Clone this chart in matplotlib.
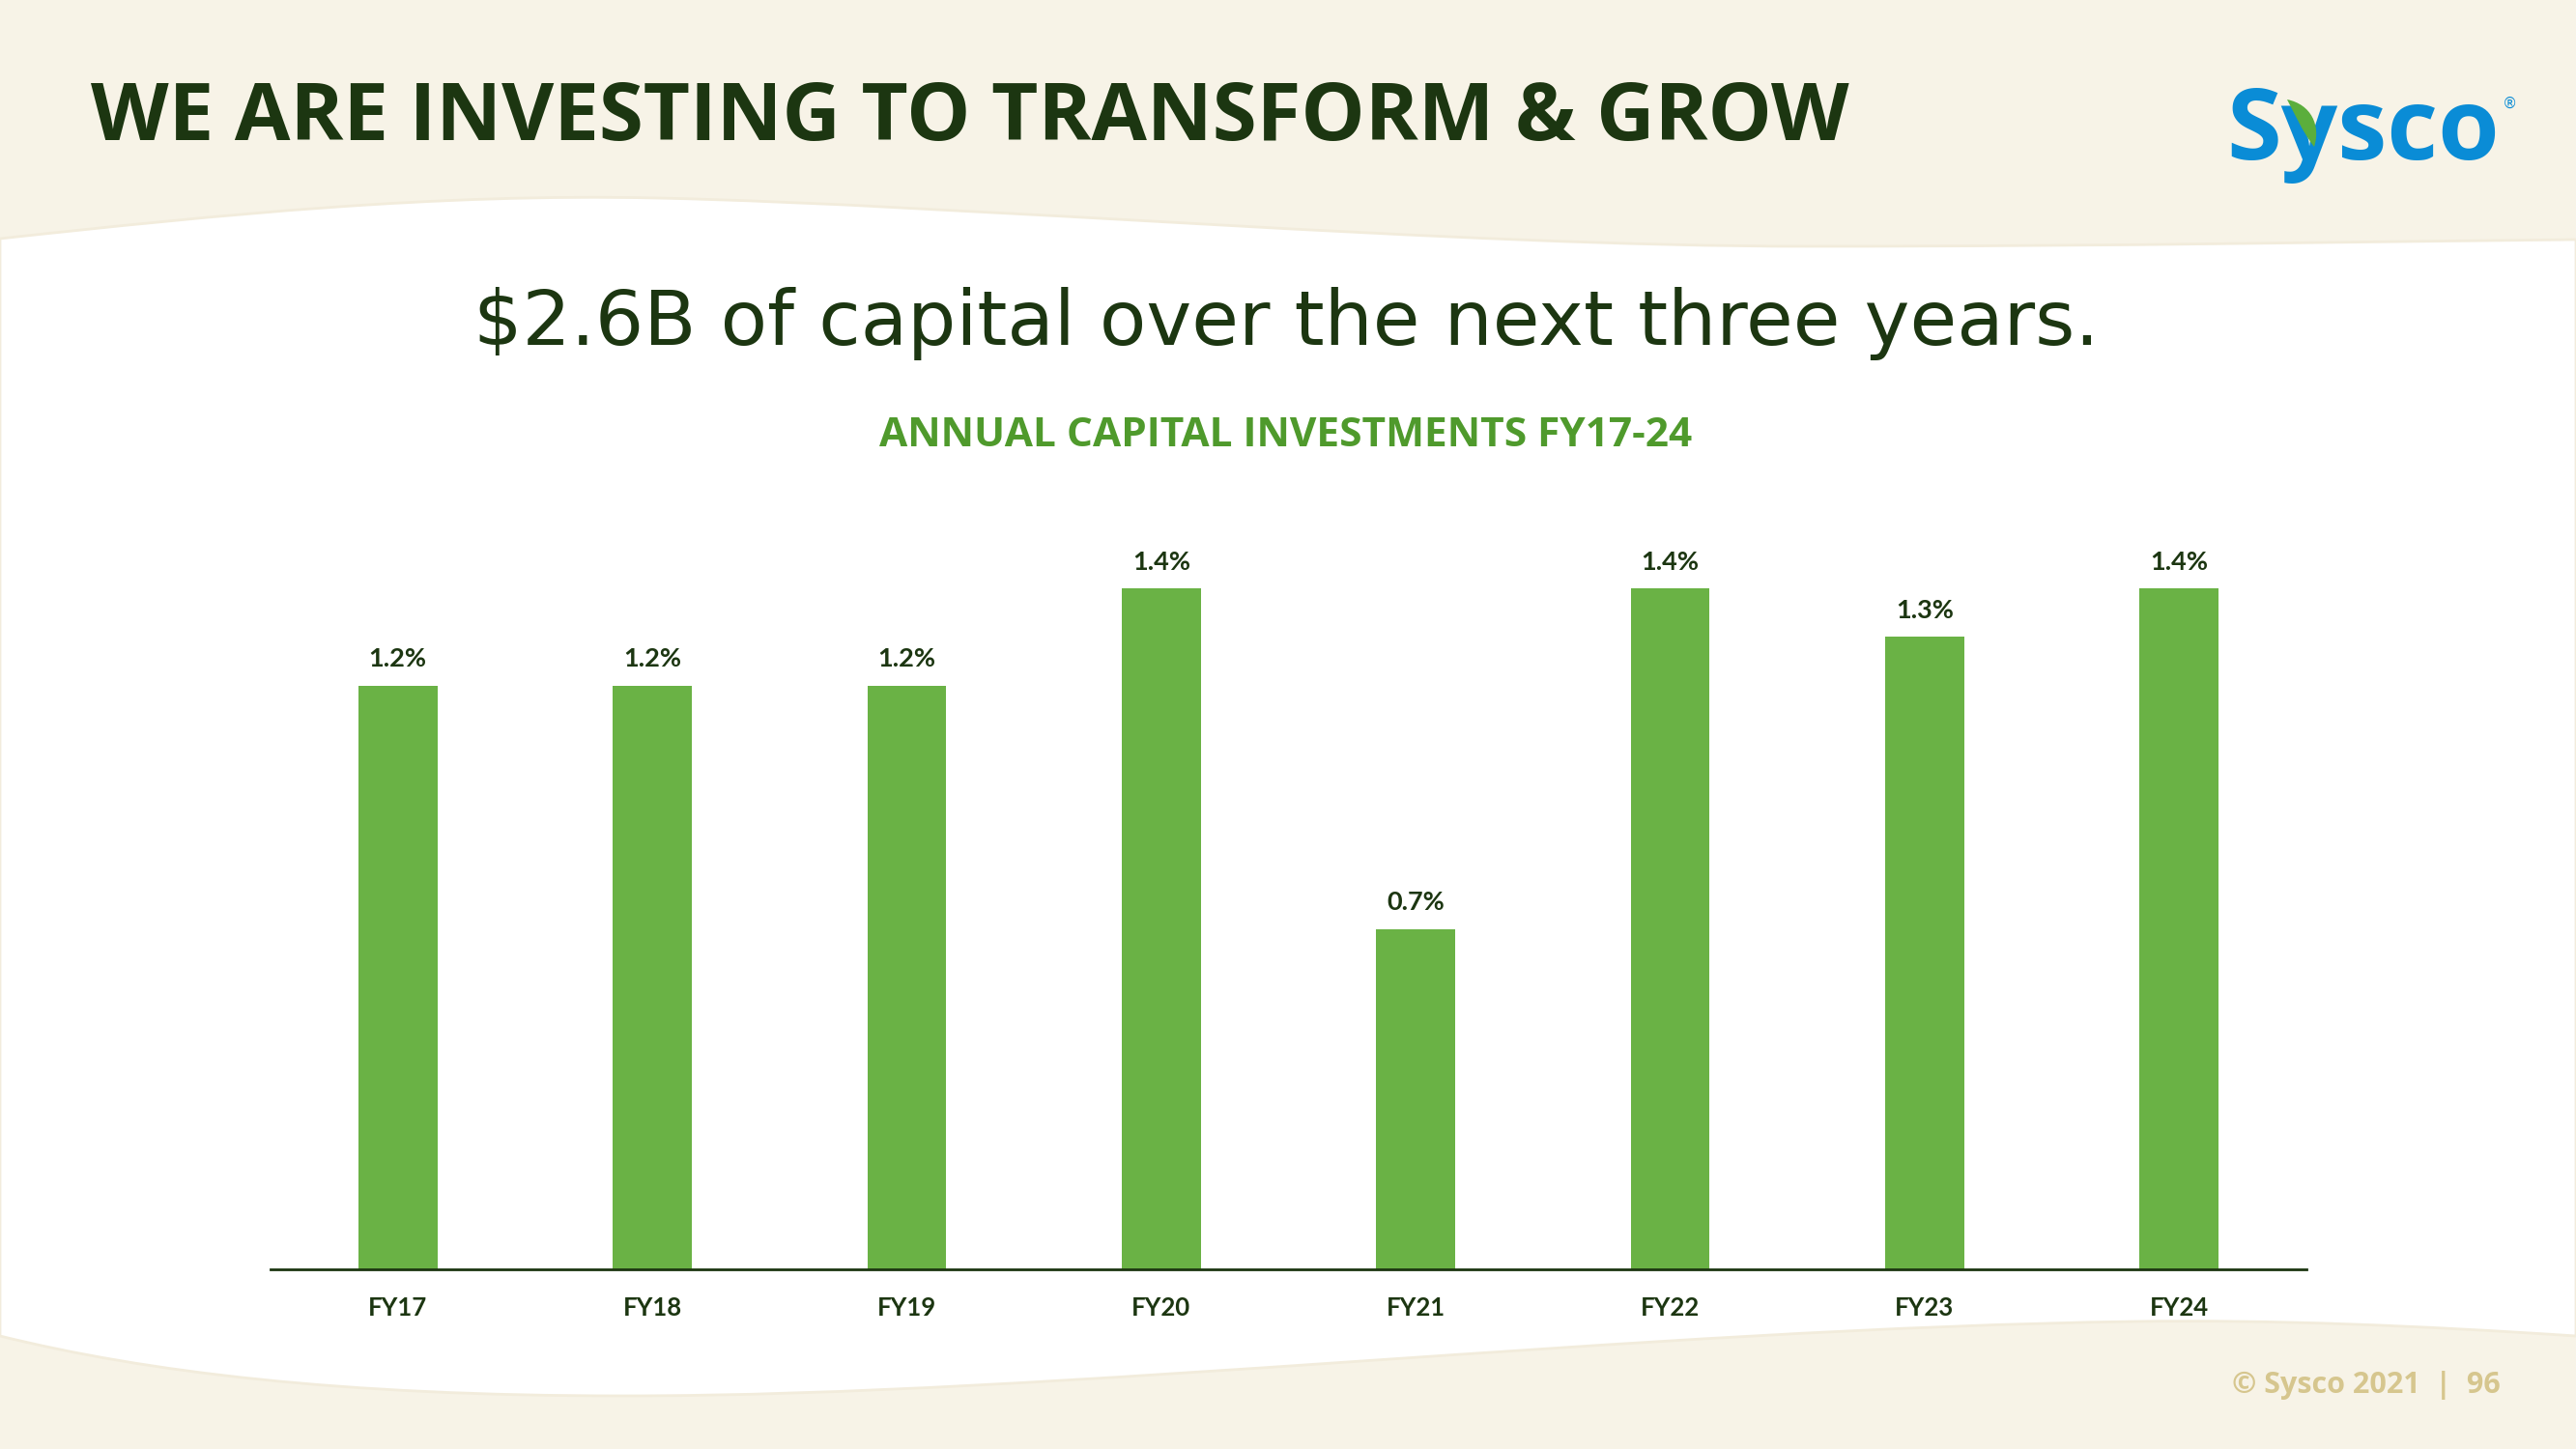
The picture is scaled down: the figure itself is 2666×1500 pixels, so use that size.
import matplotlib
matplotlib.use("Agg")
import matplotlib.pyplot as plt
from matplotlib.path import Path
from matplotlib.patches import PathPatch

years = ["FY17", "FY18", "FY19", "FY20", "FY21", "FY22", "FY23", "FY24"]
capex_pct = [1.2, 1.2, 1.2, 1.4, 0.7, 1.4, 1.3, 1.4]
labels = ["1.2%", "1.2%", "1.2%", "1.4%", "0.7%", "1.4%", "1.3%", "1.4%"]

W, H = 2666, 1500
cream = "#F7F3E7"
dark = "#1C3611"
bar_green = "#6AB245"
title_green = "#4F9A2C"


def fx(x):
    return x / W


def fy(y):
    return 1 - y / H


fig = plt.figure(figsize=(W / 100, H / 100), dpi=100)
fig.patch.set_facecolor(cream)

# white wavy panel (pixel coords, y from top)
verts = [
    (0, 247), (230, 222), (450, 200), (680, 205),
    (1000, 212), (1500, 255), (1870, 255),
    (2200, 255), (2450, 250), (2666, 248),
    (2666, 1383),
    (2500, 1372), (2350, 1366), (2210, 1368),
    (1700, 1375), (1100, 1445), (646, 1445),
    (350, 1445), (150, 1420), (0, 1383),
    (0, 247),
]
codes = [Path.MOVETO] + [Path.CURVE4] * 9 + [Path.LINETO] + [Path.CURVE4] * 9 + [Path.CLOSEPOLY]
panel = Path([(fx(x), fy(y)) for x, y in verts], codes)
fig.patches.append(PathPatch(panel, transform=fig.transFigure, facecolor="white",
                             edgecolor="#F2ECDC", lw=2, zorder=-5))

# header
fig.text(fx(94), fy(145), "WE ARE INVESTING TO TRANSFORM & GROW", family="Open Sans",
         weight="bold", fontsize=60, color=dark, va="baseline", ha="left")
fig.text(fx(2587), fy(165), "Sysco", family="Open Sans", weight="bold", fontsize=74,
         color="#0A8CD6", va="baseline", ha="right")
fig.text(fx(2590), fy(112), "®", family="DejaVu Sans", fontsize=11, color="#0A8CD6",
         va="baseline", ha="left")
# green leaf on the logo
leaf = Path([(fx(x), fy(y)) for x, y in [(2367, 103), (2392, 108), (2402, 130), (2395, 152),
                                           (2382, 135), (2375, 118), (2367, 103)]],
            [Path.MOVETO, Path.CURVE4, Path.CURVE4, Path.CURVE4,
             Path.CURVE4, Path.CURVE4, Path.CURVE4])
fig.patches.append(PathPatch(leaf, transform=fig.transFigure, facecolor="#5BAE3C",
                             edgecolor="none", zorder=5))

fig.text(fx(1331), fy(357), "$2.6B of capital over the next three years.", family="DejaVu Sans",
         fontsize=57, color=dark, va="baseline", ha="center")
fig.text(fx(1331), fy(462), "ANNUAL CAPITAL INVESTMENTS FY17-24", family="Open Sans",
         weight="bold", fontsize=30.5, color=title_green, va="baseline", ha="center")

# chart
ax = fig.add_axes([fx(280), fy(1314), fx(2387) - fx(280), 814 / H])
ax.set_facecolor("none")
x = range(len(years))
bars = ax.bar(x, capex_pct, width=0.31, color=bar_green)
for b, lab in zip(bars, labels):
    ax.annotate(lab, (b.get_x() + b.get_width() / 2, b.get_height()), xytext=(0, 14),
                textcoords="offset points", ha="center", va="baseline",
                family="Lato", weight="bold", fontsize=19.5, color=dark)

ax.set_xlim(-0.5, 7.5)
ax.set_ylim(0, 814 / 503.5)
ax.set_xticks(list(x))
ax.set_xticklabels(years, family="Lato", weight="bold", fontsize=18.5, color=dark)
ax.tick_params(axis="x", length=0, pad=20)
ax.set_yticks([])
for s in ["top", "right", "left"]:
    ax.spines[s].set_visible(False)
ax.spines["bottom"].set_color(dark)
ax.spines["bottom"].set_linewidth(2)

fig.text(fx(2588), fy(1442), "© Sysco 2021  |  96", family="Open Sans", weight="bold",
         fontsize=22, color="#D6C68E", va="baseline", ha="right")

fig.savefig("out.png", dpi=100, facecolor=fig.get_facecolor())
